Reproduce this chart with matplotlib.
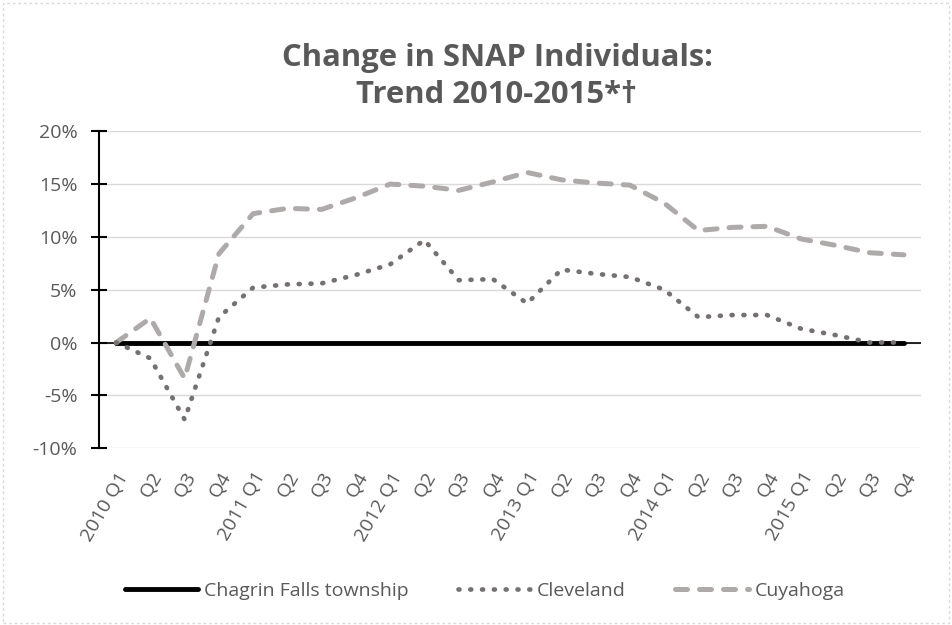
import numpy as np
import matplotlib.pyplot as plt
from matplotlib.patches import Rectangle
from matplotlib.ticker import PercentFormatter

plt.rcParams['font.family'] = ['Open Sans', 'DejaVu Sans']
plt.rcParams['axes.unicode_minus'] = False

years = ['2010', '2011', '2012', '2013', '2014', '2015']
quarters = ['Q1', 'Q2', 'Q3', 'Q4']
labels = []
for y in years:
    for q in quarters:
        labels.append(y + ' ' + q if q == 'Q1' else q)

chagrin = [0.0] * 24
cleveland = [0.0, -1.5, -7.3, 2.4, 5.2, 5.5, 5.6, 6.4, 7.4, 9.7, 5.9, 6.0,
             3.7, 6.9, 6.5, 6.2, 5.0, 2.4, 2.6, 2.6, 1.3, 0.7, 0.0, 0.0]
cuyahoga = [0.0, 2.3, -3.4, 8.4, 12.2, 12.7, 12.6, 13.7, 15.0, 14.8, 14.4, 15.2,
            16.1, 15.4, 15.1, 14.9, 13.2, 10.6, 10.9, 11.0, 9.8, 9.2, 8.5, 8.3]

grey_txt = '#595959'
x = np.arange(len(labels))

fig = plt.figure(figsize=(9.52, 6.25), dpi=100)
ax = fig.add_axes([0.104, 0.283, 0.8635, 0.507])

ax.plot(x, cuyahoga, color='#AEAAAA', lw=3.6, ls=(0, (2.4, 2.4)), dash_capstyle='round',
        label='Cuyahoga', zorder=3)
ax.plot(x, cleveland, color='#767171', lw=3.4, ls=(0, (0.2, 2.3)), dash_capstyle='round',
        label='Cleveland', zorder=4)
ax.plot(x, chagrin, color='black', lw=3.5, solid_capstyle='round',
        label='Chagrin Falls township', zorder=2)
ax.axhline(0, color='black', lw=1.2, zorder=1)

ax.set_xlim(-0.5, len(labels) - 0.5)
ax.set_ylim(-10, 20)
ax.set_yticks(np.arange(-10, 21, 5))
ax.yaxis.set_major_formatter(PercentFormatter(decimals=0))
ax.grid(axis='y', color='#D9D9D9', lw=1)
ax.set_axisbelow(True)
ax.set_xticks(x)
ax.set_xticklabels(labels, rotation=60, ha='right', rotation_mode='anchor')
ax.tick_params(axis='x', length=0, pad=15, labelsize=14, colors=grey_txt)
ax.tick_params(axis='y', length=11, width=1.5, direction='inout', color='black',
               labelsize=14, labelcolor=grey_txt, pad=10)
for s in ['top', 'right', 'bottom']:
    ax.spines[s].set_visible(False)
ax.spines['left'].set_linewidth(1.5)

fig.text(0.522, 0.877, 'Change in SNAP Individuals:\nTrend 2010-2015*\u2020', fontsize=22.3,
         fontweight='bold', color=grey_txt, ha='center', va='center', linespacing=1.3)

h, l = ax.get_legend_handles_labels()
order = [2, 1, 0]
fig.legend([h[i] for i in order], [l[i] for i in order], loc='center',
           bbox_to_anchor=(0.509, 0.054), ncol=3, frameon=False, fontsize=14,
           labelcolor=grey_txt, handlelength=3.8, handletextpad=0.3, columnspacing=2.5)

fig.add_artist(Rectangle((0.003, 0.004), 0.994, 0.992, transform=fig.transFigure,
                         fill=False, ec='#D9D9D9', lw=1, ls=(0, (2, 2))))

fig.savefig('out.png', dpi=100)
